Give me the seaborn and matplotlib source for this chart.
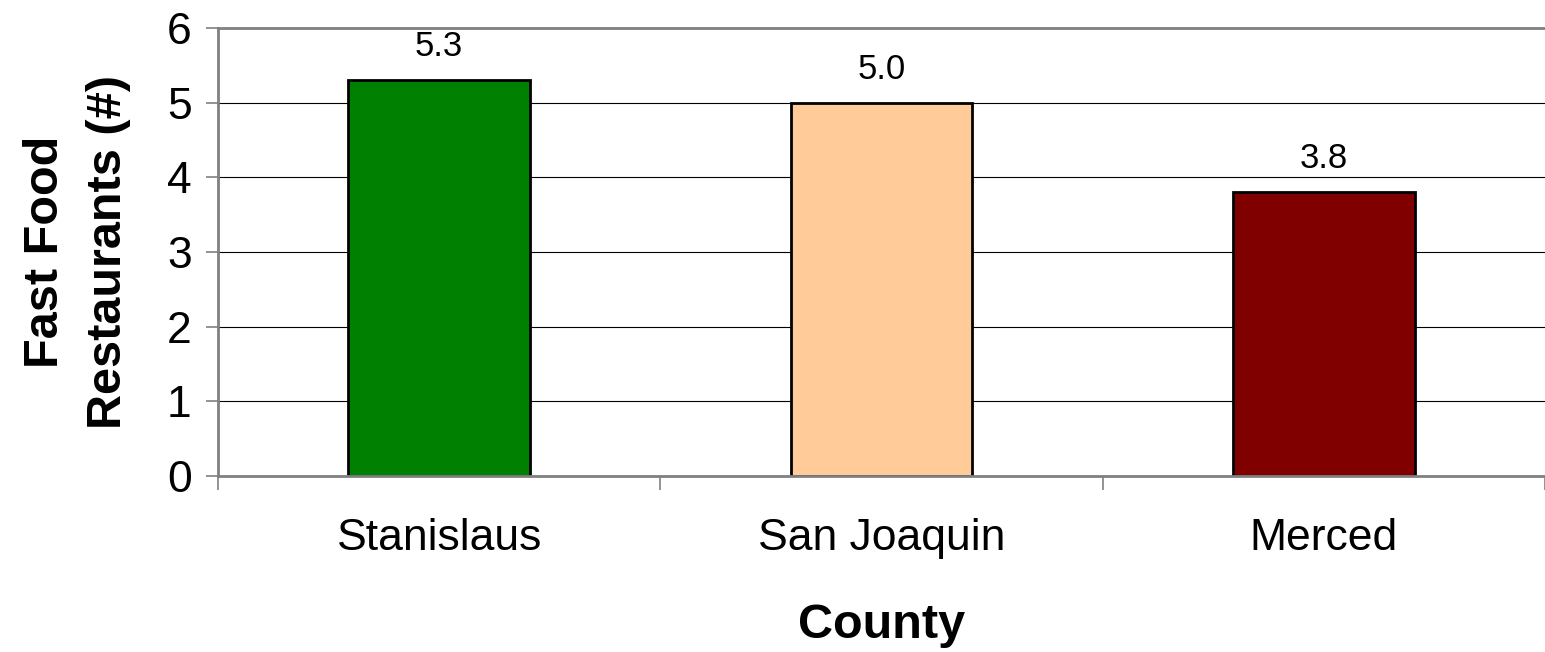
import matplotlib.pyplot as plt
import pandas as pd
import seaborn as sns
from matplotlib.ticker import FixedLocator

# Data
counties = ["Stanislaus", "San Joaquin", "Merced"]
restaurants = [5.3, 5.0, 3.8]
bar_colors = ["#008000", "#FFCC99", "#800000"]

df = pd.DataFrame({"County": counties, "Restaurants": restaurants})

sns.set_style("white")
plt.rcParams["font.family"] = ["Liberation Sans", "DejaVu Sans"]
plt.rcParams["text.color"] = "black"
plt.rcParams["axes.labelcolor"] = "black"
plt.rcParams["xtick.labelcolor"] = "black"
plt.rcParams["ytick.labelcolor"] = "black"

fig = plt.figure(figsize=(15.45, 6.52), dpi=100)
ax = fig.add_axes([218 / 1545, 1 - 476 / 652, 1 - 218 / 1545, (476 - 28) / 652])

sns.barplot(
    data=df,
    x="County",
    y="Restaurants",
    hue="County",
    palette=bar_colors,
    width=0.41,
    edgecolor="black",
    linewidth=2.0,
    saturation=1,
    legend=False,
    ax=ax,
)

ax.set_xlim(-0.5, 2.5)
ax.set_ylim(0, 6)
ax.set_yticks(range(0, 7))

# gridlines
ax.yaxis.grid(True, color="black", linewidth=0.8)
ax.set_axisbelow(True)

# spines
for side in ["left", "bottom", "top"]:
    ax.spines[side].set_visible(True)
    ax.spines[side].set_color("#808080")
    ax.spines[side].set_linewidth(2)
ax.spines["right"].set_visible(False)

# ticks: labels centred on bars, tick marks on category boundaries
ax.xaxis.set_minor_locator(FixedLocator([-0.5, 0.5, 1.5, 2.5]))
ax.tick_params(axis="x", which="major", length=0, pad=30, labelsize=32)
ax.tick_params(axis="x", which="minor", direction="out", length=10,
               width=1.2, color="#808080", bottom=True)
ax.tick_params(axis="y", which="major", direction="out", length=9,
               width=1.2, color="#808080", left=True, pad=10, labelsize=32)

# value labels
for i, v in enumerate(restaurants):
    ax.annotate(f"{v:.1f}", (i, v), xytext=(0, 24), textcoords="offset points",
                ha="center", va="center", fontsize=25)

ax.set_xlabel("County", fontsize=35, fontweight="bold", labelpad=32)
ax.set_ylabel("Fast Food\nRestaurants (#)", fontsize=35, fontweight="bold",
              labelpad=26, linespacing=1.5)

fig.savefig("out.png", dpi=100)
